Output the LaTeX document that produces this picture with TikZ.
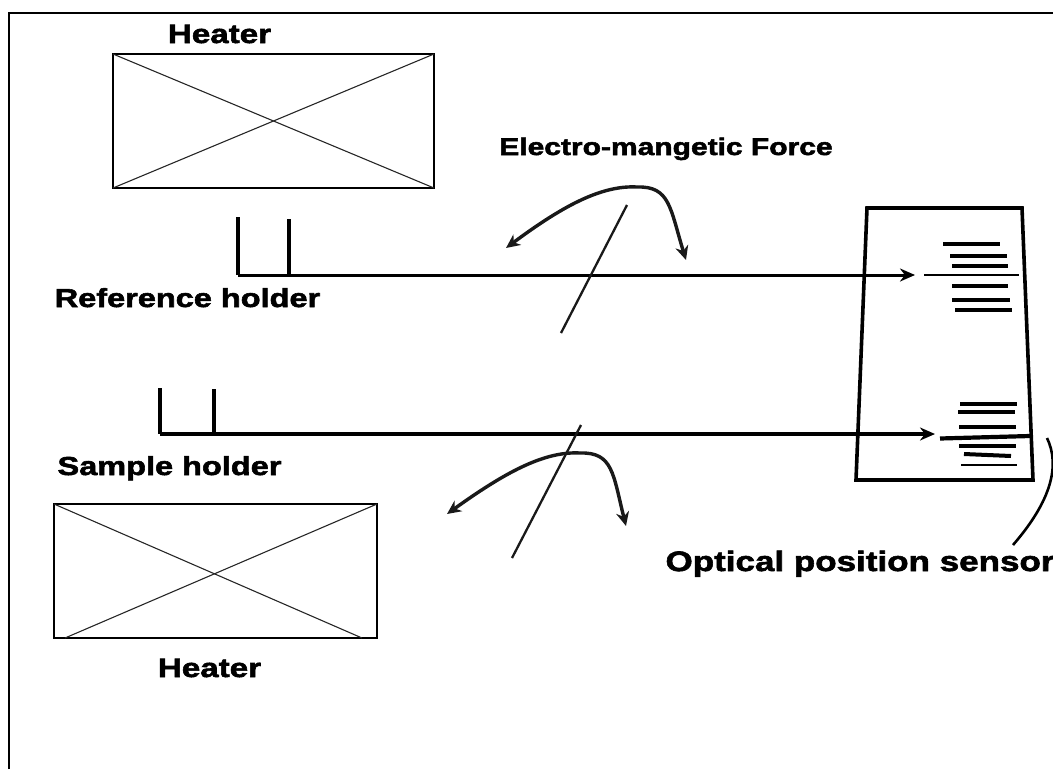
\documentclass[tikz,border=0pt]{standalone}
\usepackage{fontspec}
\setmainfont{Liberation Sans}[BoldFeatures={FakeBold=2.2,FakeStretch=1.25}]
\usetikzlibrary{arrows.meta}
\newcommand{\labsize}[1]{\fontsize{#1}{#1}\selectfont}
\tikzset{
  heaterbox/.style={draw=black,line width=2.2pt,inner sep=0pt,outer sep=0pt},
  diag/.style={draw=black!85,line width=1.1pt},
  lab/.style={inner sep=0pt,anchor=base,text=black},
  holder/.style={draw=black,line width=3.4pt},
  slashline/.style={draw=black!90,line width=2.3pt},
  bar/.style={draw=black,line width=4pt},
  forcearrow/.style={draw=black!90,line width=3.4pt,-{Stealth[length=14pt,width=13pt]}},
  beam/.style={draw=black,-{Stealth[length=15pt,width=13pt]}}
}
\begin{document}
\begin{tikzpicture}[x=1pt,y=-1pt]
\useasboundingbox (0,0) rectangle (1053,769);
% frame
\coordinate (f1) at (9,769); \coordinate (f2) at (9,13); \coordinate (f3) at (1053,13);
\draw[draw=black,line width=2.2pt] (f1) -- (f2) -- (f3);
% heaters
\node[heaterbox,minimum width=321pt,minimum height=134pt] (h1) at (273.5,121) {};
\draw[diag] (h1.north west) -- (h1.south east);
\draw[diag] (h1.north east) -- (h1.south west);
\node[heaterbox,minimum width=323pt,minimum height=134pt] (h2) at (215.5,571) {};
\coordinate (h2a) at (362,638); \coordinate (h2b) at (65,638);
\draw[diag] (h2.north west) -- (h2a);
\draw[diag] (h2.north east) -- (h2b);
% labels
\node[lab,font=\bfseries\labsize{26.5}] (t1) at (219.5,43) {Heater};
\node[lab,font=\bfseries\labsize{24}] (t2) at (666,155) {Electro-mangetic Force};
\node[lab,font=\bfseries\labsize{26}] (t3) at (187.5,307) {Reference holder};
\node[lab,font=\bfseries\labsize{26}] (t4) at (169.5,475) {Sample holder};
\node[lab,font=\bfseries\labsize{26.5}] (t5) at (209.5,677) {Heater};
\node[lab,font=\bfseries\labsize{28}] (t6) at (860,571) {Optical position sensor};
% sensor housing
\coordinate (s1) at (867,208); \coordinate (s2) at (1022,208);
\coordinate (s3) at (1033,480); \coordinate (s4) at (856,480);
\draw[draw=black,line width=3.6pt,line join=miter] (s1) -- (s2) -- (s3) -- (s4) -- cycle;
% reference holder
\coordinate (r1) at (238,217); \coordinate (r2) at (238,275);
\coordinate (r3) at (289,219); \coordinate (r4) at (289,275);
\coordinate (r5) at (915,275);
\draw[holder] (r1) -- (r2);
\draw[holder] (r3) -- (r4);
\draw[beam,line width=3pt] (r2) -- (r5);
% sample holder
\coordinate (p1) at (160,388); \coordinate (p2) at (160,434);
\coordinate (p3) at (214,389); \coordinate (p4) at (214,434);
\coordinate (p5) at (935,434);
\draw[holder] (p1) -- (p2);
\draw[holder] (p3) -- (p4);
\draw[beam,line width=3.8pt] (p2) -- (p5);
% upper force
\coordinate (a1) at (627,205); \coordinate (a2) at (561,333);
\coordinate (a3) at (637,187); \coordinate (a4) at (506,248); \coordinate (a5) at (686,260);
\draw[slashline] (a1) -- (a2);
\draw[forcearrow] (a3) .. controls (600,185) and (560,208) .. (a4);
\draw[forcearrow] (a3) .. controls (670,186) and (670,208) .. (a5);
% lower force
\coordinate (b1) at (581,425); \coordinate (b2) at (512,558);
\coordinate (b3) at (580,453); \coordinate (b4) at (447,514); \coordinate (b5) at (626,526);
\draw[slashline] (b1) -- (b2);
\draw[forcearrow] (b3) .. controls (543,451) and (503,474) .. (b4);
\draw[forcearrow] (b3) .. controls (613,452) and (613,474) .. (b5);
% sensor bars, upper
\foreach \xa/\xb/\yy in {943/1000/244,950/1007/256,952/1008/266,952/1008/286,952/1010/300,955/1012/310}
  \draw[bar] (\xa,\yy) -- (\xb,\yy);
\coordinate (c1) at (924,275); \coordinate (c2) at (1019,275);
\draw[draw=black,line width=2pt] (c1) -- (c2);
% sensor bars, lower
\foreach \xa/\xb/\yy in {960/1017/404,958/1015/412,959/1016/427,959/1016/446}
  \draw[bar] (\xa,\yy) -- (\xb,\yy);
\coordinate (d1) at (964,454); \coordinate (d2) at (1011,456);
\draw[bar] (d1) -- (d2);
\coordinate (d3) at (961,465); \coordinate (d4) at (1017,465);
\draw[draw=black,line width=2.8pt] (d3) -- (d4);
\coordinate (d5) at (940,438.5); \coordinate (d6) at (1030,436);
\draw[draw=black,line width=4.2pt] (d5) -- (d6);
% leader
\coordinate (l1) at (1047,438); \coordinate (l2) at (1013,545);
\draw[draw=black,line width=2.6pt] (l1) .. controls (1060,465) and (1052,500) .. (l2);
\end{tikzpicture}
\end{document}
